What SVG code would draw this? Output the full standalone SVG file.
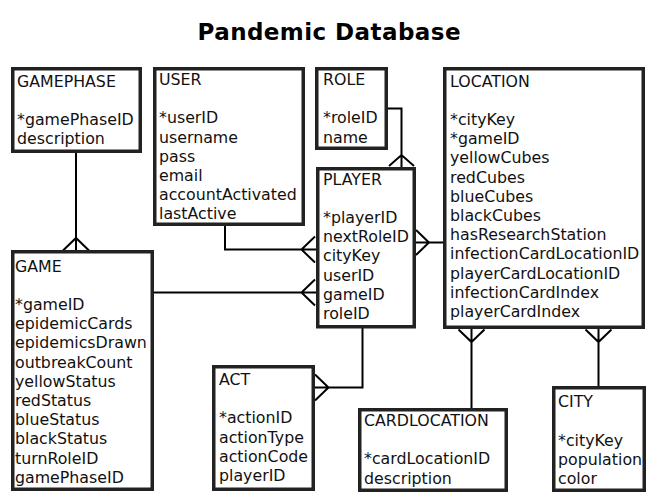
<svg xmlns="http://www.w3.org/2000/svg" width="659" height="500" viewBox="0 0 659 500">
<style>
.box{fill:#fff;stroke:#222;stroke-width:3.5}
.t{font-family:"DejaVu Sans","Verdana",sans-serif;font-size:15.8px;fill:#111}
.title{font-family:"DejaVu Sans","Verdana",sans-serif;font-size:23px;font-weight:bold;fill:#000}
.c{fill:none;stroke:#000;stroke-width:2}
</style>
<rect width="659" height="500" fill="#fff"/>
<text class="title" x="329" y="39.5" text-anchor="middle" textLength="263">Pandemic Database</text>
<g id="connectors">
<path class="c" d="M76,153V250 M63,250.5L76,238L89,250.5"/>
<path class="c" d="M225,226V249.5H316 M315,236.5L301.5,249.5L315,262.5"/>
<path class="c" d="M154,292.5H316 M315,279.5L301.5,292.5L315,305.5"/>
<path class="c" d="M388,108.5H401.5V167 M389,166L401.5,155L414,166"/>
<path class="c" d="M416,242.5H443 M416,230L429,242.5L416,255"/>
<path class="c" d="M362.5,328V387.5H315 M315,374.5L328.5,387.5L315,400.5"/>
<path class="c" d="M471.5,329V408 M458.5,329.5L471.5,342L484.5,329.5"/>
<path class="c" d="M598.5,329V386 M585.5,329.5L598.5,342L611.5,329.5"/>
</g>
<g id="gamephase">
<rect class="box" x="12.75" y="68.75" width="127.5" height="82.5"/>
<text class="t" x="17"><tspan x="17" y="86.5">GAMEPHASE</tspan><tspan x="17" y="124.9">*gamePhaseID</tspan><tspan x="17" y="144.1">description</tspan></text>
</g>
<g id="user">
<rect class="box" x="154.75" y="68.75" width="148.5" height="155.5"/>
<text class="t"><tspan x="159" y="85">USER</tspan><tspan x="159" y="123.4">*userID</tspan><tspan x="159" y="142.6">username</tspan><tspan x="159" y="161.8">pass</tspan><tspan x="159" y="181">email</tspan><tspan x="159" y="200.2">accountActivated</tspan><tspan x="159" y="219.4">lastActive</tspan></text>
</g>
<g id="role">
<rect class="box" x="316.75" y="68.75" width="69.5" height="79.5"/>
<text class="t"><tspan x="323" y="85">ROLE</tspan><tspan x="323" y="123.4">*roleID</tspan><tspan x="323" y="142.6">name</tspan></text>
</g>
<g id="player">
<rect class="box" x="317.75" y="168.75" width="96.5" height="158"/>
<text class="t"><tspan x="323" y="184.5">PLAYER</tspan><tspan x="323" y="222.9">*playerID</tspan><tspan x="323" y="242.1">nextRoleID</tspan><tspan x="323" y="261.3">cityKey</tspan><tspan x="323" y="280.5">userID</tspan><tspan x="323" y="299.7">gameID</tspan><tspan x="323" y="318.9">roleID</tspan></text>
</g>
<g id="location">
<rect class="box" x="444.75" y="68.75" width="198.5" height="258.5"/>
<text class="t"><tspan x="450" y="86.5">LOCATION</tspan><tspan x="450" y="124.9">*cityKey</tspan><tspan x="450" y="144.1">*gameID</tspan><tspan x="450" y="163.3">yellowCubes</tspan><tspan x="450" y="182.5">redCubes</tspan><tspan x="450" y="201.7">blueCubes</tspan><tspan x="450" y="220.9">blackCubes</tspan><tspan x="450" y="240.1">hasResearchStation</tspan><tspan x="450" y="259.3">infectionCardLocationID</tspan><tspan x="450" y="278.5">playerCardLocationID</tspan><tspan x="450" y="297.7">infectionCardIndex</tspan><tspan x="450" y="316.9">playerCardIndex</tspan></text>
</g>
<g id="game">
<rect class="box" x="12.75" y="251.75" width="139.5" height="237.5"/>
<text class="t"><tspan x="15" y="271.5">GAME</tspan><tspan x="15" y="309.9">*gameID</tspan><tspan x="15" y="329.1">epidemicCards</tspan><tspan x="15" y="348.3">epidemicsDrawn</tspan><tspan x="15" y="367.5">outbreakCount</tspan><tspan x="15" y="386.7">yellowStatus</tspan><tspan x="15" y="405.9">redStatus</tspan><tspan x="15" y="425.1">blueStatus</tspan><tspan x="15" y="444.3">blackStatus</tspan><tspan x="15" y="463.5">turnRoleID</tspan><tspan x="15" y="482.7">gamePhaseID</tspan></text>
</g>
<g id="act">
<rect class="box" x="213.75" y="366.75" width="99.5" height="122.5"/>
<text class="t"><tspan x="219" y="385">ACT</tspan><tspan x="219" y="423.4">*actionID</tspan><tspan x="219" y="442.6">actionType</tspan><tspan x="219" y="461.8">actionCode</tspan><tspan x="219" y="481">playerID</tspan></text>
</g>
<g id="cardlocation">
<rect class="box" x="359.75" y="409.75" width="146.5" height="80.5"/>
<text class="t"><tspan x="364" y="426">CARDLOCATION</tspan><tspan x="364" y="464.4">*cardLocationID</tspan><tspan x="364" y="483.6">description</tspan></text>
</g>
<g id="city">
<rect class="box" x="553.75" y="387.75" width="90.5" height="102.5"/>
<text class="t"><tspan x="558" y="407.3">CITY</tspan><tspan x="558" y="445.7">*cityKey</tspan><tspan x="558" y="464.9">population</tspan><tspan x="558" y="484.1">color</tspan></text>
</g>
</svg>
